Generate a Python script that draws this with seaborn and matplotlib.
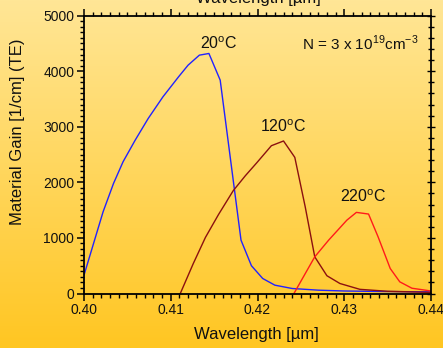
import numpy as np
import pandas as pd
import matplotlib
matplotlib.use("Agg")
import matplotlib.pyplot as plt
import seaborn as sns
from matplotlib.ticker import MultipleLocator

# Material gain spectra at three temperatures
wl_20c = [0.4000, 0.4011, 0.4022, 0.4034, 0.4045, 0.4059, 0.4074, 0.4091, 0.4109,
          0.4120, 0.4133, 0.4144, 0.4157, 0.4169, 0.4181, 0.4193, 0.4206, 0.4220,
          0.4240, 0.4270, 0.4300, 0.4350, 0.4400]
gain_20c = [330, 900, 1470, 1980, 2370, 2760, 3150, 3540, 3900,
            4110, 4290, 4320, 3840, 2400, 960, 500, 270, 150,
            90, 60, 45, 35, 30]

wl_120c = [0.4111, 0.4126, 0.4140, 0.4155, 0.4172, 0.4186, 0.4199, 0.4216, 0.4230,
           0.4243, 0.4255, 0.4266, 0.4280, 0.4295, 0.4318, 0.4350, 0.4400]
gain_120c = [0, 540, 1010, 1420, 1850, 2120, 2350, 2660, 2745,
             2450, 1560, 660, 320, 180, 75, 40, 20]

wl_220c = [0.4242, 0.4254, 0.4266, 0.4282, 0.4303, 0.4314, 0.4328, 0.4339, 0.4353,
           0.4364, 0.4378, 0.4400]
gain_220c = [0, 330, 660, 960, 1320, 1460, 1430, 1020, 450,
             210, 95, 45]

series_labels = ["20°C", "120°C", "220°C"]
series_colors = ["#2222ff", "#8b1010", "#ff1a1a"]

frames = []
for lab, wl, g in zip(series_labels, [wl_20c, wl_120c, wl_220c],
                      [gain_20c, gain_120c, gain_220c]):
    frames.append(pd.DataFrame({"wavelength": wl, "gain": g, "temp": lab}))
df = pd.concat(frames, ignore_index=True)

sns.set_style("ticks")
plt.rcParams["font.family"] = ["Liberation Sans", "DejaVu Sans"]
plt.rcParams["mathtext.fontset"] = "custom"
plt.rcParams["mathtext.rm"] = "Liberation Sans"

W, H = 443, 348
fig = plt.figure(figsize=(W / 100, H / 100), dpi=100)

# Vertical gradient background over the whole figure
bg = fig.add_axes([0, 0, 1, 1], zorder=-10)
grad = np.linspace(0, 1, 256).reshape(-1, 1)
top = np.array([255, 230, 150]) / 255
bot = np.array([255, 198, 34]) / 255
img = top[None, None, :] * (1 - grad[:, :, None]) + bot[None, None, :] * grad[:, :, None]
bg.imshow(img, aspect="auto", extent=[0, 1, 0, 1])
bg.set_axis_off()

ax = fig.add_axes([84 / W, 1 - 293.5 / H, (431 - 84) / W, (293.5 - 15.7) / H])
ax.set_facecolor("none")

sns.lineplot(data=df, x="wavelength", y="gain", hue="temp", palette=series_colors,
             hue_order=series_labels, sort=False, estimator=None, linewidth=1.0,
             legend=False, ax=ax)

ax.set_xlim(0.40, 0.44)
ax.set_ylim(0, 5000)
ax.xaxis.set_major_locator(MultipleLocator(0.01))
ax.xaxis.set_minor_locator(MultipleLocator(0.001))
ax.yaxis.set_major_locator(MultipleLocator(1000))
ax.yaxis.set_minor_locator(MultipleLocator(100))
ax.set_xticks([0.40, 0.41, 0.42, 0.43, 0.44])
ax.set_xticklabels(["0.40", "0.41", "0.42", "0.43", "0.44"])
ax.set_xlabel("")
ax.set_ylabel("")

for s in ax.spines.values():
    s.set_visible(True)
    s.set_linewidth(1.3)
    s.set_color("black")

ax.tick_params(axis="both", which="major", labelsize=10, length=5, width=1.1,
               color="black", labelcolor="#111111", pad=2)
ax.tick_params(axis="both", which="minor", length=3, width=1.0, color="black")
ax.tick_params(axis="x", which="both", direction="out", top=True)
ax.tick_params(axis="y", which="both", direction="out", right=False)

# Right-hand ticks drawn across the frame
ax_r = ax.twinx()
ax_r.set_ylim(ax.get_ylim())
ax_r.yaxis.set_major_locator(MultipleLocator(1000))
ax_r.yaxis.set_minor_locator(MultipleLocator(200))
ax_r.tick_params(axis="y", which="both", direction="inout", labelright=False,
                 length=4, width=1.0, color="black")
ax_r.tick_params(axis="y", which="major", length=6)
for s in ax_r.spines.values():
    s.set_visible(False)

tkw = dict(fontsize=11.5, color="#111111")
ax.text(0.4155, 4500, "20$^\\mathrm{o}$C", ha="center", va="center", **tkw)
ax.text(0.4318, 4500, "N = 3 x 10$^\\mathrm{19}$cm$^\\mathrm{-3}$",
        ha="center", va="center", fontsize=11, color="#111111")
ax.text(0.4230, 3000, "120$^\\mathrm{o}$C", ha="center", va="center", **tkw)
ax.text(0.4322, 1750, "220$^\\mathrm{o}$C", ha="center", va="center", **tkw)

fig.text(256 / W, 1 - 335 / H, "Wavelength [µm]", ha="center", va="center",
         fontsize=12, color="#111111")
fig.text(18 / W, 1 - 132 / H, "Material Gain [1/cm] (TE)", ha="center",
         va="center", rotation=90, fontsize=12, color="#111111")
fig.text(258 / W, 1 - 2.5 / H, "Wavelength [µm]", ha="center", va="baseline",
         fontsize=12, color="#111111")

fig.savefig("out.png", dpi=100)
